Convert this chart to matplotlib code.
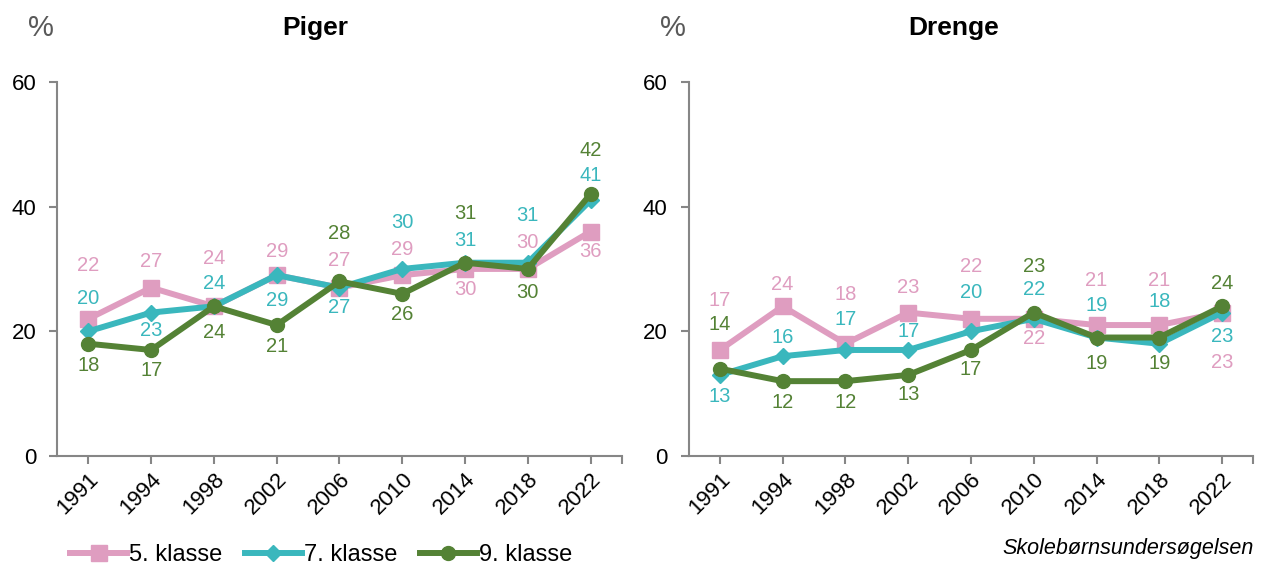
import matplotlib
matplotlib.use("Agg")
import matplotlib.pyplot as plt

plt.rcParams['font.family'] = ['Liberation Sans', 'DejaVu Sans']

years = ['1991', '1994', '1998', '2002', '2006', '2010', '2014', '2018', '2022']
series_names = ['5. klasse', '7. klasse', '9. klasse']

piger_5 = [22, 27, 24, 29, 27, 29, 30, 30, 36]
piger_7 = [20, 23, 24, 29, 27, 30, 31, 31, 41]
piger_9 = [18, 17, 24, 21, 28, 26, 31, 30, 42]

drenge_5 = [17, 24, 18, 23, 22, 22, 21, 21, 23]
drenge_7 = [13, 16, 17, 17, 20, 22, 19, 18, 23]
drenge_9 = [14, 12, 12, 13, 17, 23, 19, 19, 24]

# label offsets in pixels (positive = above the point)
piger_off = [
    [53, 26, 48, 24, 27, 26, -21, 26, -20],
    [33, -18, 23, -25, -20, 46, 22, 47, 25],
    [-22, -21, -26, -21, 48, -21, 49, -24, 44],
]
drenge_off = [
    [49, 22, 49, 25, 52, -20, 45, 45, -50],
    [-22, 19, 30, 18, 39, 29, 32, 42, -24],
    [44, -21, -21, -20, -20, 46, -26, -26, 23],
]

colors = ['#DF9DC0', '#3AB7BD', '#548235']
markers = ['s', 'D', 'o']
msizes = [11, 8, 10]

fig = plt.figure(figsize=(12.61, 5.65), dpi=100)
ax1 = fig.add_axes([0.0452, 0.193, 0.448, 0.662])
ax2 = fig.add_axes([0.5460, 0.193, 0.448, 0.662])

panels = [
    (ax1, 'Piger', 0.457, [piger_5, piger_7, piger_9], piger_off),
    (ax2, 'Drenge', 0.469, [drenge_5, drenge_7, drenge_9], drenge_off),
]

x = list(range(len(years)))
for ax, title, tx, data, offs in panels:
    for vals, off, c, m, ms, name in zip(data, offs, colors, markers, msizes, series_names):
        ax.plot(x, vals, color=c, lw=4.3, marker=m, markersize=ms,
                markeredgecolor=c, label=name, solid_joinstyle='round')
        for xi, v, o in zip(x, vals, off):
            ax.annotate(str(v), (xi, v), xytext=(0, o), textcoords='offset pixels',
                        ha='center', va='center', color=c, fontsize=14.5)
    ax.set_xlim(-0.5, 8.5)
    ax.set_ylim(0, 60)
    ax.set_yticks([0, 20, 40, 60])
    ax.set_xticks(x + [8.5])
    ax.set_xticklabels(years + [''], rotation=45, ha='right', rotation_mode='anchor')
    for s in ['top', 'right']:
        ax.spines[s].set_visible(False)
    for s in ['left', 'bottom']:
        ax.spines[s].set_color('#868686')
        ax.spines[s].set_linewidth(1.5)
    ax.tick_params(axis='both', colors='#868686', labelcolor='black',
                   labelsize=16, length=6, width=1.5)
    ax.tick_params(axis='y', pad=9)
    ax.tick_params(axis='x', pad=3)
    ax.text(tx, 1.143, title, transform=ax.transAxes, fontsize=19,
            fontweight='bold', ha='center', va='center')
    ax.text(-0.028, 1.143, '%', transform=ax.transAxes, fontsize=21,
            color='#595959', ha='center', va='center')

handles, labels = ax1.get_legend_handles_labels()
fig.legend(handles, labels, loc='lower left', bbox_to_anchor=(0.039, -0.04),
           ncol=3, frameon=False, fontsize=17, handlelength=2.4,
           handletextpad=0.1, columnspacing=0.95)

fig.text(0.994, 0.01, 'Skolebørnsundersøgelsen', ha='right', va='bottom',
         fontsize=15.5, style='italic')

fig.savefig('out.png', dpi=100)
